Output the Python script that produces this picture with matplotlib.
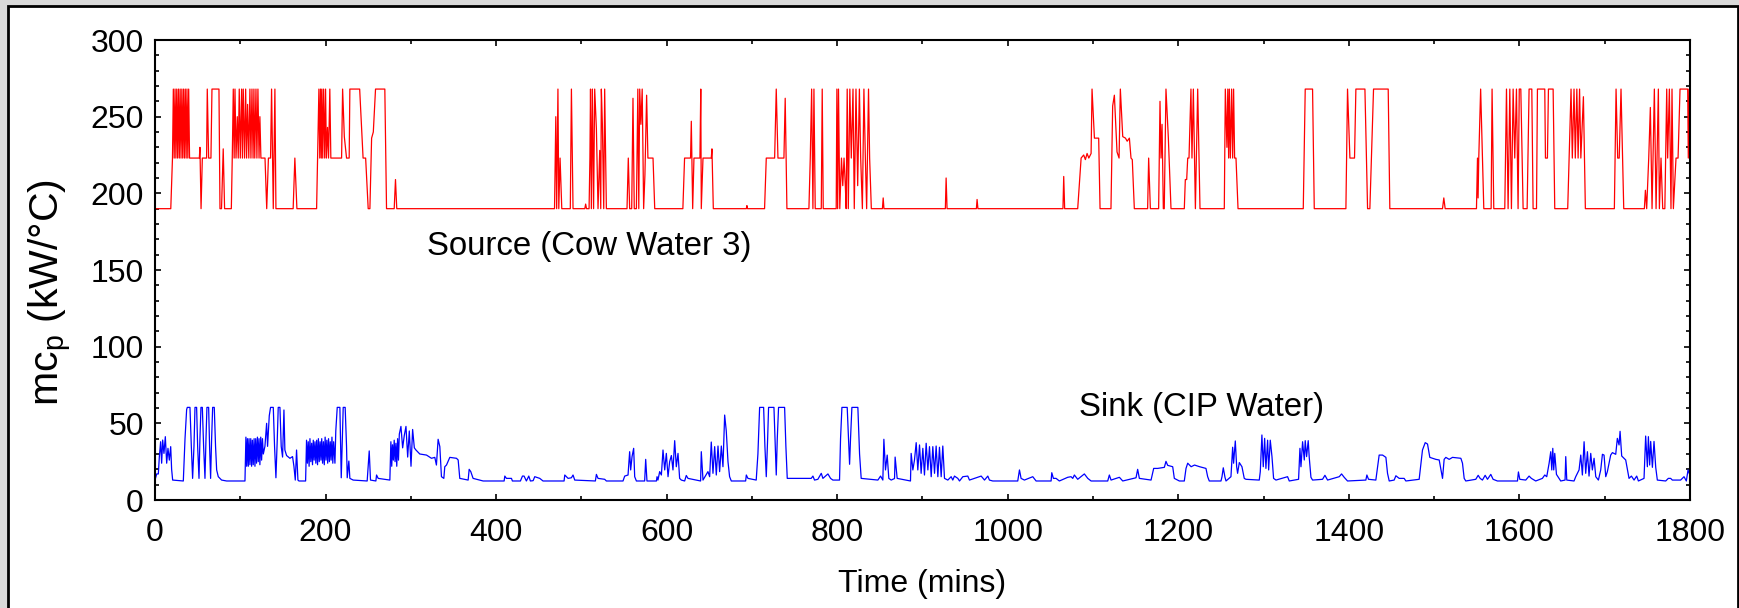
import matplotlib
matplotlib.use('Agg')
import matplotlib.pyplot as plt
from matplotlib.patches import Rectangle
from matplotlib.ticker import MultipleLocator

plt.rcParams['font.family'] = ['Liberation Sans', 'DejaVu Sans']
plt.rcParams['mathtext.fontset'] = 'custom'
plt.rcParams['mathtext.rm'] = 'Liberation Sans'
plt.rcParams['mathtext.it'] = 'Liberation Sans:italic'

# (time [min], mcp [kW/C])
source_pts = [
    (0, 190), (18.5, 190), (20.5, 223),
    (21.5, 268), (22.5, 223), (23.5, 268), (24.5, 223), (25.5, 268), (26.5, 223), (27.5, 268), (28.5, 223),
    (29.5, 268), (30.5, 223), (31.5, 268), (32.5, 223), (33.5, 268), (34.5, 223), (35.5, 268), (36.5, 223),
    (37.5, 268), (38.5, 223), (39.5, 268), (40.5, 223),
    (52, 223), (52.7, 230), (54, 190), (55.5, 223), (60.5, 223), (61.3, 268), (62.9, 223), (65.6, 223),
    (66.8, 268), (75, 268), (76.2, 190), (78, 190), (80, 229), (81.6, 190), (89.5, 190), (90.6, 223),
    (91.8, 268), (92.8, 223), (93.8, 268), (95, 223), (96.5, 250), (97.6, 223), (98.8, 268), (100, 223),
    (101.6, 268), (102.5, 223), (103.5, 268), (105, 223), (106.3, 268), (107.4, 223), (108.6, 258), (110, 223),
    (111.3, 268), (112.5, 223), (113.7, 268), (115, 223), (116, 268), (117, 223), (118.4, 268), (119.5, 223),
    (120.7, 268), (122, 223), (123, 250), (124.2, 223), (129, 223), (131, 190), (133, 223), (135.5, 223),
    (136.7, 268), (138.7, 190), (140.6, 268), (141.8, 190), (162, 190), (164, 223), (166.4, 190), (189.5, 190),
    (190.6, 223), (192.2, 268), (193.2, 223), (194.1, 268), (195, 223), (195.7, 268), (196.7, 223), (197.7, 268),
    (199, 223), (200, 268), (201, 223), (202.3, 243), (203.5, 223), (205, 268), (206.2, 223), (218.8, 223),
    (220, 268), (222, 237), (224.6, 223), (227.7, 223), (228.5, 268), (240, 268), (244, 223), (247, 223),
    (250, 190), (252, 190), (254, 236), (256, 240), (258.6, 268), (269.5, 268), (271.5, 190), (280.5, 190),
    (282, 209), (283.5, 190),
    (468.5, 190), (470, 250), (471, 190), (472.5, 268), (473.5, 190), (475, 223), (477, 190), (487, 190),
    (488.3, 268), (490.2, 190), (504, 190), (505, 193), (506, 190), (509, 190), (510, 223), (510.7, 268),
    (511.7, 190), (512.9, 268), (514.3, 190), (515.6, 268), (517.6, 242), (519.5, 190), (521.5, 228),
    (522.7, 190), (523.4, 268), (524.6, 245), (526.2, 190), (527.3, 268), (529.3, 190),
    (553.5, 190), (555, 223), (556.6, 190), (559, 190), (560.5, 262), (562, 190), (564.5, 190), (566.2, 268),
    (567.3, 190), (568.4, 268), (569.8, 245), (571.3, 268), (573, 190), (574.5, 212), (576.5, 264), (578, 223),
    (584, 223), (586, 190),
    (619, 190), (621, 223), (628, 223), (628.9, 247), (630.5, 190), (632, 223), (639, 223), (640, 268),
    (640.6, 190), (642.6, 223), (652.3, 223), (653.1, 229), (654.7, 190), (693.4, 190), (694.1, 192),
    (694.8, 190), (714.8, 190), (716.8, 223), (726.6, 223), (728.5, 268), (730.5, 223), (737.5, 223),
    (739, 262), (741, 190), (766.8, 190), (768.4, 223), (770, 268), (771.5, 190), (772.7, 268), (774.2, 190),
    (781.3, 190), (782.4, 268), (783.6, 190),
    (798.8, 190), (799.6, 268), (800.5, 190), (801.5, 268), (803, 190), (805, 223), (806.5, 205), (808, 223),
    (809.5, 205), (810.5, 190), (811.7, 268), (813, 190), (814.8, 268), (816.5, 223), (818.5, 268), (820, 190),
    (822, 268), (824, 205), (826, 268), (827.5, 223), (829.5, 190), (831.3, 268), (833, 223), (834.5, 190),
    (836.7, 268), (838, 223), (840, 190),
    (853, 190), (853.9, 197), (854.8, 190), (926.8, 190), (927.7, 210), (928.8, 190), (963.2, 190), (964, 196),
    (965, 190), (1064.7, 190), (1065.6, 211), (1066.7, 190), (1082, 190), (1086, 223), (1089, 225),
    (1091, 222), (1093, 226), (1095, 223), (1097.7, 226), (1098.8, 268), (1101.6, 236), (1106.6, 236),
    (1108.2, 190), (1121, 190), (1123, 257), (1125, 264), (1128.1, 227), (1130.5, 223), (1132, 268),
    (1134.8, 237), (1138, 236), (1140, 234), (1142.6, 236), (1144.5, 223), (1146, 222), (1148.4, 190),
    (1164, 190), (1165.2, 223), (1167.2, 190), (1176.9, 190), (1178.5, 260), (1179.7, 223), (1180.9, 245),
    (1182.4, 190), (1183.5, 190), (1185.5, 268), (1188.3, 236), (1191.4, 190),
    (1207, 190), (1208.2, 209), (1209.8, 209), (1211, 223), (1212.5, 223), (1214.8, 268), (1216, 223),
    (1217.6, 268), (1220, 190), (1222.7, 268), (1225.4, 190), (1253.9, 190), (1255.1, 268), (1256, 250),
    (1257, 230), (1258, 268), (1259, 223), (1259.8, 268), (1261, 223), (1262.5, 268), (1263.7, 223),
    (1264.8, 268), (1266, 223), (1267.6, 223), (1270, 190), (1346.5, 190), (1348.8, 268), (1357.4, 268),
    (1359.4, 190), (1396.5, 190), (1398.4, 268), (1401.2, 223), (1406.6, 223), (1408.2, 268), (1418.8, 268),
    (1421.9, 190), (1424.6, 190), (1428.9, 268), (1446.1, 268), (1448, 190), (1509.8, 190), (1511.3, 197),
    (1512.9, 190), (1549.6, 190), (1550.8, 223), (1551.5, 197), (1552.3, 223), (1554.5, 268), (1558.2, 190),
    (1566.8, 190), (1567.9, 268), (1569.9, 190), (1582.8, 190), (1584.8, 268), (1586.7, 190), (1588.7, 268),
    (1590.6, 190), (1592.6, 268), (1594.5, 223), (1596.5, 268), (1598.4, 190), (1599.8, 268), (1601.6, 268),
    (1604.3, 190), (1609, 190), (1611.3, 268), (1614.5, 268), (1616, 190), (1620, 190), (1621.1, 268),
    (1629.7, 268), (1630.5, 223), (1632.8, 223), (1634, 268), (1639.5, 268), (1641.4, 190), (1656.6, 190),
    (1660.5, 268), (1662, 223), (1664, 268), (1665.5, 223), (1667.3, 268), (1668.8, 223), (1670.5, 268),
    (1672, 223), (1675, 263), (1677.3, 190), (1711.3, 190), (1713.3, 268), (1715.2, 223), (1717, 223),
    (1719.1, 268), (1722.3, 190), (1746.5, 190), (1747.7, 202), (1749.2, 190), (1751.6, 223), (1753.5, 256),
    (1755.5, 190), (1758.2, 268), (1760.2, 190), (1762.9, 268), (1764.1, 190), (1766, 223), (1768, 190),
    (1770.5, 190), (1772.7, 268), (1773.8, 223), (1775.8, 268), (1777.7, 190), (1778.9, 268), (1780.5, 190),
    (1783.6, 223), (1786, 223), (1788.3, 268), (1797.3, 268), (1798, 223), (1799, 268), (1800, 223),
]

sink_pts = [
    (0, 13), (2, 17), (3.9, 17), (5.1, 28.3), (6.6, 38), (7.8, 24), (9, 39.1), (10.5, 30.4), (12.1, 41.3),
    (13.7, 24), (15.2, 33.7), (16.8, 26), (18.4, 34.8), (19.5, 20), (20.7, 13), (33.2, 12.4), (35.2, 40),
    (37.1, 59), (37.9, 60.4), (41, 60.4), (42.6, 35), (44.1, 14.1), (45.7, 35), (46.9, 60.4), (48.8, 60.4),
    (50, 35), (51.6, 14.1), (52.7, 40), (53.9, 60.4), (55.5, 60.4), (57, 35), (58.6, 14.1), (59.8, 40),
    (60.9, 60.4), (62.9, 60.4), (64, 35), (65.2, 14.1), (66.4, 40), (67.6, 60.4), (69.5, 60.4), (71, 35),
    (72.3, 19.6), (74.2, 15.2), (78.1, 13), (84, 12.4), (105.5, 12.4),
    (106.6, 41), (107.5, 22), (108.4, 40), (109.4, 22), (110.3, 40), (111.3, 23), (112.3, 40), (113.3, 22),
    (114.2, 39), (115.2, 23), (116.2, 40), (117.2, 22), (118.1, 40), (119.1, 24), (120.1, 41), (121.1, 25),
    (122, 40), (123, 23), (124, 41), (125, 26), (126, 40), (127, 30),
    (128.9, 35), (130.9, 50), (132, 35), (134, 55), (135.5, 60.4), (138.7, 60.4), (140.2, 35), (141.8, 14.5),
    (143.4, 40), (144.5, 60.4), (146.5, 60.4), (148, 35), (149.6, 28), (151.2, 58.7), (152.3, 32.6),
    (154.3, 29), (158.2, 27.2), (161.3, 28.3), (162.9, 22), (164.5, 13), (166, 32.6), (167.6, 13),
    (168.8, 12.4), (176.6, 12.4),
    (177.7, 39), (178.7, 24), (179.7, 38), (180.7, 22), (181.7, 40), (182.7, 25), (183.7, 37), (184.7, 23),
    (185.6, 39), (186.6, 26), (187.6, 38), (188.6, 24), (189.6, 39), (190.6, 23), (191.6, 40), (192.6, 25),
    (193.6, 38), (194.6, 26), (195.5, 40), (196.5, 24), (197.5, 38), (198.5, 23), (199.5, 41), (200.5, 26),
    (201.5, 39), (202.5, 24), (203.5, 40), (204.5, 25), (205.5, 38), (206.5, 26), (207.5, 41), (208.5, 24),
    (209.5, 38), (211, 24),
    (212, 45), (213.7, 60.4), (216.8, 60.4), (218.4, 14.5), (220.7, 60.4), (223, 60.4), (224.6, 35),
    (225.4, 14.5), (227.3, 25.4), (228.5, 14.1), (232.4, 13), (248.8, 12.4), (251.2, 32), (252.7, 13),
    (259, 12.4), (259.8, 16.3), (261.7, 14.1), (275.4, 13),
    (276.6, 38), (277.6, 22), (278.5, 36), (279.5, 26), (280.5, 39), (281.5, 25), (282.5, 37), (283.5, 22),
    (284.5, 40), (285.5, 26), (286.5, 43), (288.4, 48), (290.4, 34), (292.3, 42), (294.3, 48), (296.3, 28),
    (298.2, 45), (300.2, 22), (302.1, 46), (304.1, 34), (306, 32.6), (310.5, 30), (318.4, 29.3),
    (324.2, 27.2), (328.1, 27.8), (330, 22.8), (332, 39.6), (334, 34.8), (335.9, 15.2), (338.7, 14.1),
    (339.8, 21.7), (341.8, 22.8), (345.7, 27.8), (353.5, 27.2), (355.5, 26.1), (357.4, 14.1), (367.2, 13),
    (368.4, 20), (370.3, 18.5), (373, 14.1), (380.9, 13), (384.8, 12.4), (409.4, 12.4), (410.2, 15.6),
    (412.1, 14.1), (418, 14.1), (419.1, 12.4), (428.5, 12.4), (430.9, 15.6), (432.8, 15.6), (435.5, 12.4),
    (438.3, 15.6), (440.2, 12.4), (443.4, 12.6), (445.3, 15.2), (451.2, 14.1), (455, 12.4), (479.7, 12.4),
    (480.5, 16.3), (484.4, 14.1), (488.3, 14.5), (490.2, 16.3), (492.2, 13), (516.4, 12.4), (517.6, 16.7),
    (519.5, 14.1), (527.3, 13.5), (529.3, 12.4), (548.8, 12.4), (550.8, 15.6), (554.7, 16.3), (556.6, 31.5),
    (557.8, 19.6), (559.4, 28.3), (561.3, 33.7), (562.5, 15.2), (564.5, 12.4), (574.2, 12.4), (575.4, 26.5),
    (576.9, 12.4), (588, 12.4), (588.7, 15.2), (589.8, 13), (591.8, 18.5), (593.8, 16.3), (595.7, 32.6),
    (597.7, 19.6), (599.6, 30.4), (601.6, 15.2), (603.5, 25), (605.5, 29), (607.4, 19.6), (609.4, 38.7),
    (611.3, 21.7), (613.3, 30.4), (615.2, 14.1), (617.2, 13), (621.1, 12.4), (623, 16), (625, 14.1),
    (639.8, 12.4), (640.6, 31.5), (642.6, 13), (648.4, 18.5), (650.4, 15.2), (652.3, 37.8), (654.3, 17.4),
    (656.3, 34.8), (658.2, 16.3), (660.2, 35.2), (662.1, 18.5), (664.1, 35.2), (666, 21.7), (668, 55.4),
    (669.9, 45), (671.9, 25), (673.8, 15.2), (675.8, 12.4), (692.6, 12.4), (693.4, 16.3), (695.3, 14.1),
    (705, 13), (707, 30), (709, 60.4), (713.7, 60.4), (715.2, 35), (716.8, 15.2), (718.4, 40), (719.5, 60.4),
    (725.8, 60.4), (727.3, 35), (728.5, 16.3), (729.7, 40), (731.2, 60.4), (738.3, 60.4), (739.8, 35),
    (741.4, 14.1), (769.5, 14.1), (771.5, 15.6), (773.4, 13), (777.3, 13.5), (781.3, 17.4), (783.2, 14.1),
    (789.1, 17), (792.2, 14.1), (794.9, 13), (802.7, 13), (803.9, 40), (805.5, 60.4), (811.7, 60.4),
    (813.3, 40), (814.5, 23.3), (815.6, 40), (817.2, 60.4), (824.2, 60.4), (826.2, 30), (828.1, 14.1),
    (847.7, 13), (850.8, 15.6), (853.5, 13), (854.7, 39.6), (856.6, 19.6), (858.6, 29.3), (860.5, 14.1),
    (863.3, 13), (867.2, 14), (867.9, 28), (870.3, 14.1), (885.9, 12.4), (886.7, 30.4), (888.7, 19.6),
    (890.6, 26.1), (892.6, 37.4), (894.5, 19.6), (896.5, 35.9), (898.4, 17.4), (900.4, 33.7), (902.3, 16.3),
    (904.3, 37), (906.3, 19.6), (908.2, 34.8), (910.2, 15.2), (912.1, 34.8), (914.1, 17.4), (916, 35.2),
    (918, 15.2), (919.9, 34.4), (921.9, 15.2), (923.8, 35.2), (925.8, 14.1), (929.7, 13), (933.6, 15.2),
    (935.5, 13), (937.5, 15.6), (941.4, 14.1), (943.4, 12.4), (947.3, 15.2), (953.1, 15.6), (955.1, 13),
    (968.8, 15.6), (972.7, 13), (976.6, 15.6), (978.5, 13), (982.4, 12.4), (1011.7, 12.4), (1013.7, 19.6),
    (1015.6, 14.1), (1019.5, 13), (1029.3, 15.2), (1033.2, 12.4), (1050.8, 12.4), (1051.6, 17.8),
    (1053.5, 14.1), (1056.6, 14.1), (1060.5, 12.4), (1070.3, 14.8), (1074.2, 15.2), (1076.2, 14.1),
    (1078.1, 16.3), (1082, 13.5), (1089.8, 17), (1093.8, 14.1), (1097.7, 12.4), (1117.2, 12.4),
    (1119.1, 16.3), (1121.1, 13), (1130.9, 14.8), (1134.8, 12.4), (1150.4, 14.5), (1152.3, 20),
    (1154.3, 14.1), (1168, 13), (1171.1, 20.6), (1175.8, 20.6), (1183.6, 21.3), (1185.5, 25.2),
    (1187.5, 22.6), (1193.4, 21.7), (1195.3, 14.1), (1201.2, 12.4), (1207, 12.4), (1209, 20.6), (1211, 24),
    (1215, 21.7), (1219, 22.8), (1225, 21.7), (1232.4, 20.6), (1234.4, 15.2), (1236.3, 12.4), (1250, 12.4),
    (1251.2, 15.2), (1252.7, 21), (1254.7, 14.8), (1255.9, 12.4), (1261.7, 15.2), (1263.7, 34.4),
    (1264.8, 24), (1266.8, 38.5), (1268.4, 21.7), (1269.5, 17.4), (1271.5, 24.4), (1274.6, 21.7),
    (1277.3, 14.1), (1279.3, 13.5), (1294.9, 13), (1296.1, 18.5), (1298, 42.4), (1299.6, 21.7),
    (1301.2, 40.2), (1302.7, 20.6), (1304.7, 39), (1305.9, 19.6), (1307.8, 39), (1309.8, 28.3),
    (1311.7, 14.1), (1314.5, 13), (1328.1, 15.2), (1330.1, 12.4), (1341, 13.5), (1342.6, 33.7),
    (1343.8, 21.7), (1345.7, 38), (1347.7, 26.1), (1348.8, 38.7), (1350.4, 28.3), (1352.3, 38.7),
    (1353.5, 27.8), (1355.5, 14.8), (1357.4, 13), (1369.1, 13.5), (1371.9, 16.1), (1375, 13),
    (1388.7, 15.2), (1391.4, 17), (1394.5, 14.8), (1398.4, 12.4), (1419.9, 13), (1421.1, 16.3),
    (1423, 13.5), (1431.6, 13), (1435.5, 29.3), (1439.5, 29.3), (1443.4, 27.8), (1445.3, 17.4),
    (1447.3, 12.4), (1453.1, 13), (1455.1, 15.8), (1459, 14.1), (1464.8, 14.1), (1466.8, 12.4),
    (1482.4, 13.5), (1486.3, 32.6), (1489.5, 37.4), (1492.2, 36.5), (1494.9, 27.8), (1502, 26.5),
    (1505.9, 26.1), (1509.8, 14.1), (1511.7, 26.5), (1513.7, 27.8), (1517.6, 26.5), (1521.5, 27.8),
    (1531.3, 27.2), (1533.2, 24), (1535.2, 14.1), (1537.1, 12.4), (1548.8, 13.5), (1551.6, 16.1),
    (1553.9, 14.1), (1556.6, 13), (1559.8, 16.1), (1562.5, 13.5), (1566.4, 16.7), (1569.1, 13.5),
    (1574.2, 12.4), (1597.7, 12.4), (1598.8, 18.3), (1600.4, 13.5), (1607.4, 13), (1611.3, 15.6),
    (1614, 14.1), (1619.1, 12.4), (1626.9, 14.1), (1629.7, 16.3), (1632, 15.2), (1634.8, 24),
    (1636.7, 31.5), (1637.9, 19.6), (1639.1, 33.7), (1640.2, 19.6), (1641.4, 30.4), (1643.4, 16.7),
    (1646.5, 14.1), (1648.4, 12.4), (1653.5, 13), (1654.3, 28.3), (1655.5, 13), (1664, 12.4), (1666, 15.2),
    (1669.9, 19.6), (1671.9, 29.3), (1673.8, 16.3), (1675.8, 38), (1677.7, 17.4), (1679.7, 31.5),
    (1681.6, 15.6), (1683.6, 30.4), (1685.5, 19.6), (1687.5, 27.2), (1689.5, 15.2), (1692.6, 13),
    (1695.3, 19.6), (1697.3, 29.8), (1699.2, 29.3), (1701.2, 15.2), (1703.1, 18.5), (1707, 29.3),
    (1709, 30.9), (1712.9, 29.8), (1714.8, 40.2), (1716.8, 35.9), (1718, 44.8), (1719.9, 28.7),
    (1724.6, 26.1), (1728.5, 14.1), (1731.3, 15.6), (1734.4, 13), (1737.5, 15.6), (1739.5, 12.4),
    (1746.1, 14.1), (1748, 41.7), (1750, 21.7), (1751.2, 41.3), (1752.7, 22.8), (1753.9, 38.2),
    (1755.9, 21.3), (1757.8, 38.2), (1759.8, 21.3), (1761.7, 13), (1771.5, 12.4), (1774.6, 14.1),
    (1777.3, 14.1), (1779.3, 13), (1789, 13), (1793, 15.2), (1795.7, 12.4), (1797.7, 19.6), (1800, 16),
]

source_label = 'Source (Cow Water 3)'
sink_label = 'Sink (CIP Water)'

src_t, src_v = zip(*source_pts)
snk_t, snk_v = zip(*sink_pts)

fig = plt.figure(figsize=(17.4, 6.08), dpi=100, facecolor='#d9d9d9')
# white panel with black frame behind the plot
fig.patches.append(Rectangle((8 / 1740, -0.1), 1730 / 1740, 1.1 - 6 / 608, transform=fig.transFigure,
                             facecolor='white', edgecolor='black', lw=2, zorder=-1))

ax = fig.add_axes([155 / 1740, 108 / 608, 1535 / 1740, 460 / 608])
ax.plot(src_t, src_v, color='#ff0000', lw=0.9)
ax.plot(snk_t, snk_v, color='#0000ff', lw=0.9)

ax.set_xlim(0, 1800)
ax.set_ylim(0, 300)
ax.set_xticks(range(0, 1801, 200))
ax.set_yticks(range(0, 301, 50))
ax.xaxis.set_minor_locator(MultipleLocator(100))
ax.yaxis.set_minor_locator(MultipleLocator(10))
ax.tick_params(which='both', direction='in', top=True, right=True, width=1.2)
ax.tick_params(which='major', length=4.5, labelsize=23)
ax.tick_params(axis='x', which='major', pad=13)
ax.tick_params(axis='y', which='major', pad=8)
ax.tick_params(which='minor', length=3)
for s in ax.spines.values():
    s.set_linewidth(1.5)

ax.set_xlabel('Time (mins)', fontsize=23)
ax.xaxis.set_label_coords(0.5, -0.2)
ax.xaxis.label.set_va('baseline')
ax.set_ylabel(r'mc$_{\mathrm{p}}$ (kW/°C)', fontsize=29.5)
ax.yaxis.set_label_coords(-0.053, 0.452)

ax.text(319, 160, source_label, fontsize=23.8, ha='left', va='baseline')
ax.text(1083, 54.8, sink_label, fontsize=23.8, ha='left', va='baseline')

fig.savefig('out.png', dpi=100, facecolor=fig.get_facecolor())
